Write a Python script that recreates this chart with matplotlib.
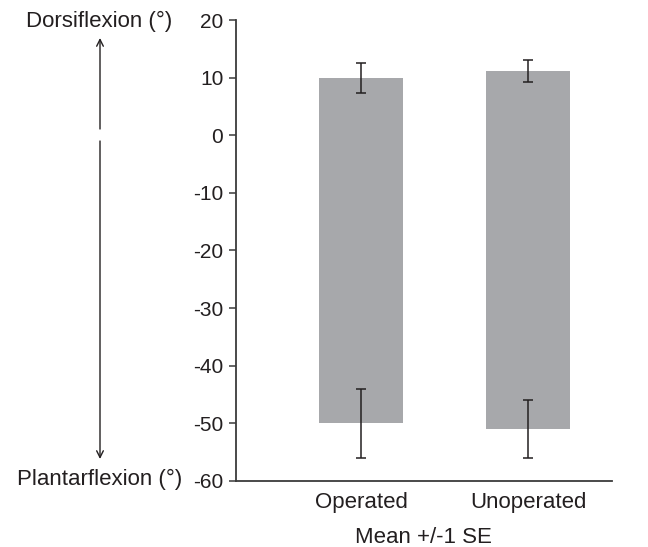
import matplotlib.pyplot as plt

plt.rcParams['font.family'] = ['Liberation Sans', 'DejaVu Sans']
plt.rcParams['axes.unicode_minus'] = False

# data
groups = ['Operated', 'Unoperated']
dorsi_mean = [10.0, 11.1]
dorsi_se = [2.6, 1.9]
plantar_mean = [-50.0, -51.0]
plantar_se = [6.0, 5.0]

bar_color = '#a7a8ab'
ink = '#231f20'
spine_col = '#3a3a3a'

fig = plt.figure(figsize=(6.48, 5.47), dpi=100)
ax = fig.add_axes([0.364, 0.1207, 0.58, 0.8427])

x = list(range(len(groups)))
heights = [d - p for d, p in zip(dorsi_mean, plantar_mean)]
ax.bar(x, heights, bottom=plantar_mean, width=0.5, color=bar_color, zorder=1)

# error bars at both ends of the bars
ax.errorbar(x, dorsi_mean, yerr=dorsi_se, fmt='none', ecolor=ink,
            elinewidth=1.1, capsize=3.6, capthick=1.1, zorder=3)
ax.errorbar(x, plantar_mean, yerr=plantar_se, fmt='none', ecolor=ink,
            elinewidth=1.1, capsize=3.6, capthick=1.1, zorder=3)

ax.set_xlim(-0.75, 1.5)
ax.set_ylim(-60, 20)
ax.set_yticks(range(-60, 21, 10))
ax.set_xticks(x)
ax.set_xticklabels(groups)

for s in ['top', 'right']:
    ax.spines[s].set_visible(False)
for s in ['left', 'bottom']:
    ax.spines[s].set_color(spine_col)
    ax.spines[s].set_linewidth(1.3)

ax.tick_params(axis='y', direction='out', length=5, width=1.1, color=spine_col,
               labelsize=15, labelcolor=ink, pad=4)
ax.tick_params(axis='x', length=0, labelsize=16, labelcolor=ink, pad=8)
ax.set_xlabel('Mean +/-1 SE', fontsize=16, color=ink, labelpad=10)

# direction labels with arrows on the left
fig.text(99 / 648, 1 - 21 / 547, 'Dorsiflexion (°)', ha='center', va='center',
         fontsize=16, color=ink)
fig.text(99.5 / 648, 1 - 479 / 547, 'Plantarflexion (°)', ha='center', va='center',
         fontsize=16, color=ink)
ax.annotate('', xy=(100 / 648, 1 - 38 / 547), xytext=(100 / 648, 1 - 129 / 547),
            xycoords='figure fraction', textcoords='figure fraction',
            arrowprops=dict(arrowstyle='->', color=ink, lw=1.0,
                            shrinkA=0, shrinkB=0, mutation_scale=12))
ax.annotate('', xy=(100 / 648, 1 - 459 / 547), xytext=(100 / 648, 1 - 141 / 547),
            xycoords='figure fraction', textcoords='figure fraction',
            arrowprops=dict(arrowstyle='->', color=ink, lw=1.0,
                            shrinkA=0, shrinkB=0, mutation_scale=12))

fig.savefig('out.png', dpi=100)
